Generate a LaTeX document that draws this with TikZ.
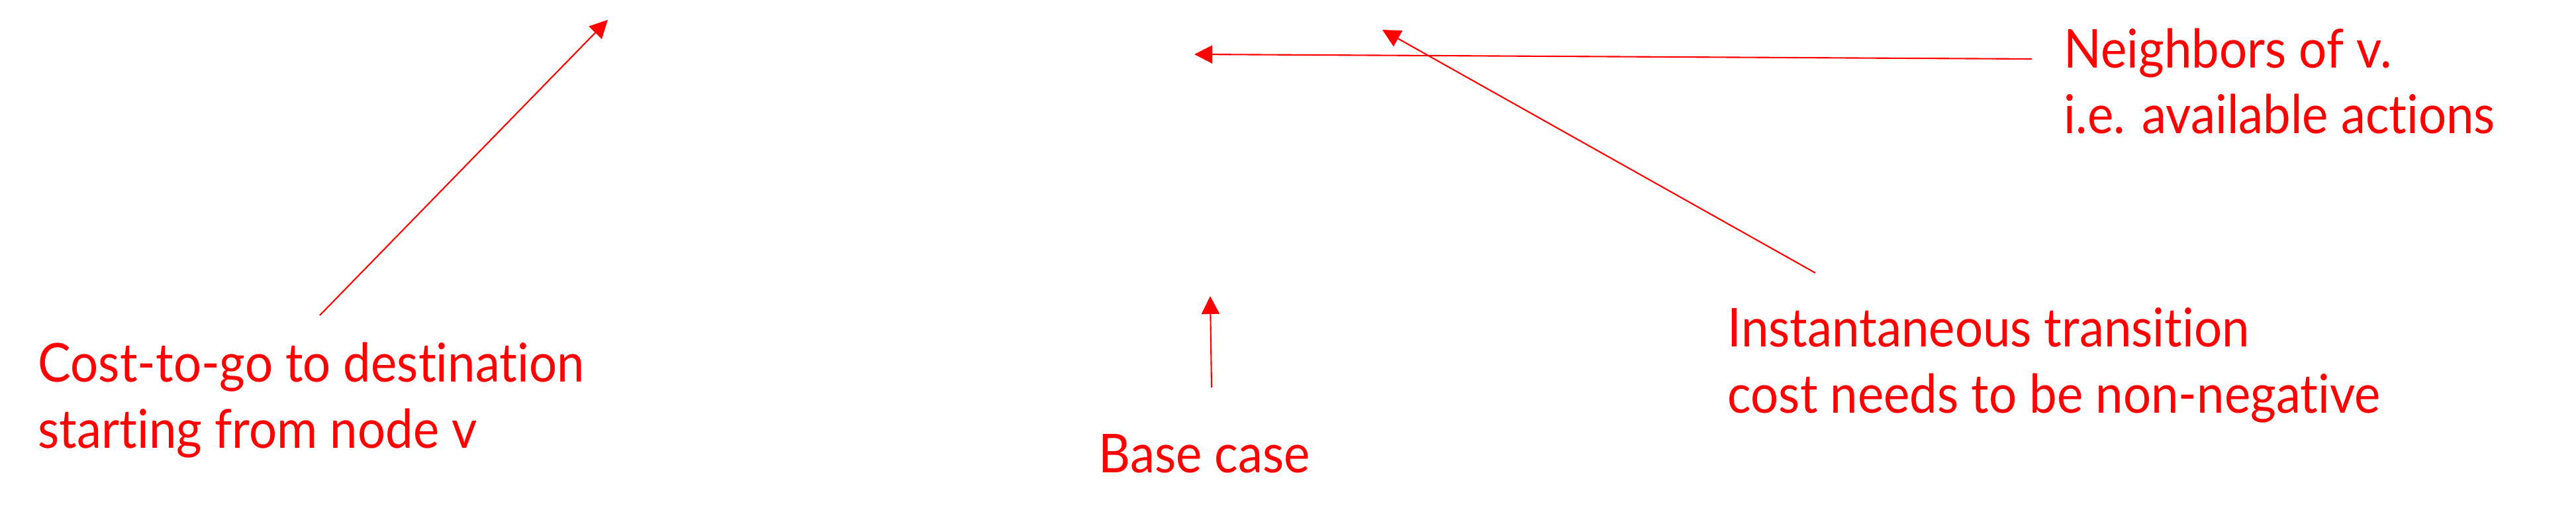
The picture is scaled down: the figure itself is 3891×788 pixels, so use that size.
\documentclass[tikz,border=0pt]{standalone}
\usepackage{fontspec}
\setmainfont{Lato}[FakeStretch=0.92,Ligatures=NoCommon]
\usetikzlibrary{arrows.meta}

\begin{document}
\begin{tikzpicture}[x=0.01cm,y=-0.01cm,
	label/.style={text=red,inner sep=0pt,anchor=base west,align=left,
		font=\fontsize{23pt}{28.2pt}\selectfont},
	pointer/.style={red,line width=0.6pt,-{Triangle[length=7.7pt,width=7.7pt]}}]
	\useasboundingbox (0,0) rectangle (3891,788);
	\coordinate (costfoot) at (483,476);
	\coordinate (costtip) at (918,30);
	\coordinate (basefoot) at (1830,585);
	\coordinate (basetip) at (1828,447);
	\coordinate (neighfoot) at (3069,89);
	\coordinate (neightip) at (1804,82);
	\coordinate (instfoot) at (2742,412);
	\coordinate (insttip) at (2088,45);
	\node[label] (cost) at (57,676) {Cost-to-go to destination\\starting from node v};
	\node[label] (base) at (1659,713) {Base case};
	\node[label] (neigh) at (3117,202) {Neighbors of v.\\i.e. available actions};
	\node[label] (inst) at (2609,623) {Instantaneous transition\\cost needs to be non-negative};
	\draw[pointer] (costfoot) -- (costtip);
	\draw[pointer] (basefoot) -- (basetip);
	\draw[pointer] (neighfoot) -- (neightip);
	\draw[pointer] (instfoot) -- (insttip);
\end{tikzpicture}
\end{document}
